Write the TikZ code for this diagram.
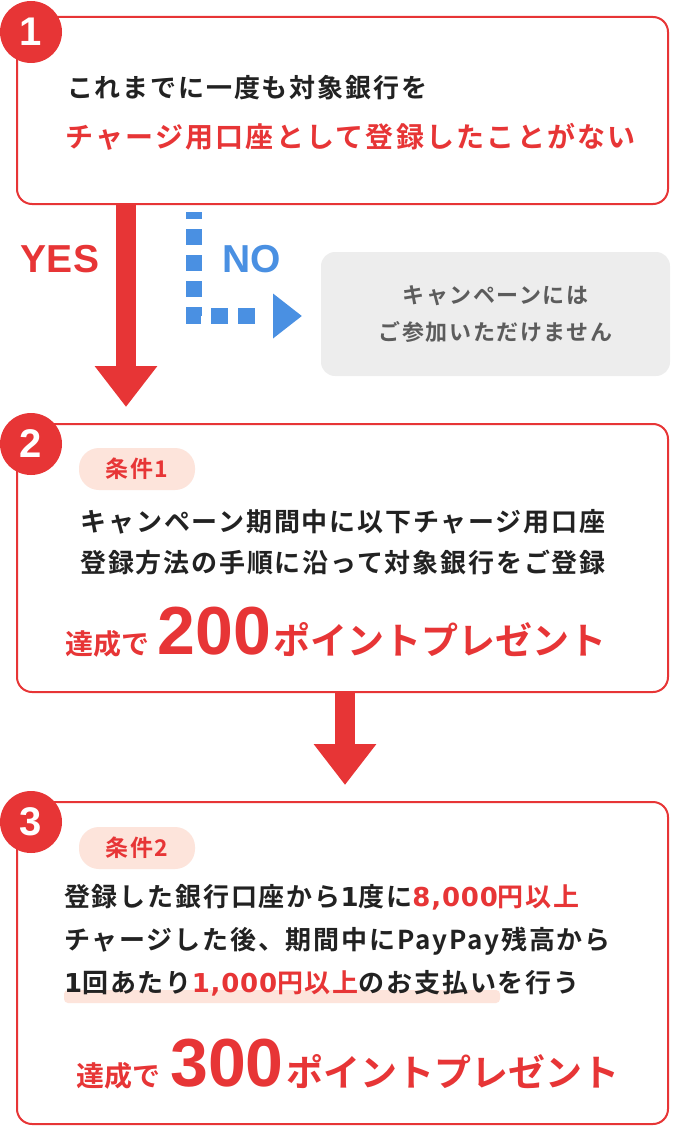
\documentclass[tikz,border=0pt]{standalone}
\usepackage{fontspec}
\setmainfont{Noto Sans CJK JP}[BoldFont=* Bold]
\newfontfamily\headfont{Liberation Sans}
\newfontfamily\digitfont{DejaVu Sans}
\usetikzlibrary{arrows.meta,positioning}
\definecolor{ppRed}{HTML}{E73536}
\definecolor{ppBlue}{HTML}{4A90E2}
\definecolor{ppInk}{HTML}{222222}
\definecolor{ppGray}{HTML}{EDEDED}
\definecolor{ppMute}{HTML}{5C5C5C}
\definecolor{ppPink}{HTML}{FDE4DB}
\newcommand{\fs}[1]{\fontsize{#1}{#1}\selectfont}
\newcommand{\wide}{\addfontfeature{LetterSpace=7}}
\newcommand{\digits}[1]{{\digitfont\bfseries\addfontfeature{LetterSpace=3}#1}}

\begin{document}
\begin{tikzpicture}[x=1pt,y=-1pt,
   stepbox/.style={draw=ppRed,line width=2pt,fill=white,rounded corners=15pt,
              minimum width=651pt,inner sep=0pt},
   numdot/.style={circle,fill=ppRed,minimum size=62pt,inner sep=0pt,text=white,
              font=\headfont\bfseries\fs{40}},
   pill/.style={fill=ppPink,rounded corners=20pt,minimum width=116pt,minimum height=42pt,
              inner sep=0pt,text=ppRed,font=\bfseries\fs{23}\wide},
   body/.style={inner sep=0pt,text=ppInk,font=\bfseries\fs{26}\wide},
   prize/.style={inner sep=0pt,text=ppRed,font=\bfseries},
   answer/.style={inner sep=0pt,font=\headfont\bfseries\fs{39}},
   bigarrow/.style={draw=ppRed,line width=20pt,-{Triangle[length=41pt,width=60pt]}},
   noarrow/.style={draw=ppBlue,line width=16pt,
              dash pattern=on 7pt off 10pt on 16pt off 10pt on 16pt off 10pt on 16pt off 10pt
                 on 16pt off 10pt on 17pt off 10pt on 17pt off 40pt,
              -{Triangle[length=29pt,width=43pt]}}]
  \useasboundingbox (0,0) rectangle (686,1126);
  % step 1
  \node[stepbox,minimum height=187pt] (step1) at (342.5,110.5) {};
  \node[numdot] (num1) at (31,32) {1};
  \node[body,anchor=west] (q1a) at (67,88) {これまでに一度も対象銀行を};
  \node[body,anchor=west,text=ppRed,font=\bfseries\fs{28}\addfontfeature{LetterSpace=8}] (q1b) at (65,137)
     {チャージ用口座として登録したことがない};
  % yes / no
  \node[answer,text=ppRed] (yes) at (60,259) {YES};
  \node[answer,text=ppBlue] (no) at (252,259) {NO};
  \node[fill=ppGray,rounded corners=14pt,minimum width=349pt,minimum height=124pt,
        align=center,text=ppMute,font=\bfseries\fontsize{22}{37}\selectfont\wide] (nobox) at (495.5,314)
     {キャンペーンには\\ご参加いただけません};
  \coordinate (yestip) at (126,407);
  \draw[bigarrow] (step1.south -| yestip) -- (yestip);
  \coordinate (nostart) at (194,212);
  \coordinate (noend) at (302,316);
  \draw[noarrow] (nostart) |- (noend);
  % step 2
  \node[stepbox,minimum height=268pt] (step2) at (342.5,558) {};
  \node[numdot] (num2) at (31,444) {2};
  \node[pill] (cond1) at (137,469) {条件1};
  \node[body] (t2a) at (343,522) {キャンペーン期間中に以下チャージ用口座};
  \node[body] (t2b) at (343,563) {登録方法の手順に沿って対象銀行をご登録};
  \node[prize,anchor=base] (p2) at (336,654)
     {{\fs{28}達成で}\hspace{8pt}{\headfont\fs{68}200}\hspace{2pt}{\fs{37}ポイントプレゼント}};
  \coordinate (oktip) at (345,785);
  \draw[bigarrow] (step2.south -| oktip) -- (oktip);
  % step 3
  \node[stepbox,minimum height=322pt] (step3) at (342.5,963) {};
  \node[numdot] (num3) at (31,822) {3};
  \node[pill] (cond2) at (137,848) {条件2};
  \fill[ppPink,rounded corners=4pt] (64,990) rectangle (500,1003);
  \node[body,anchor=west] (t3a) at (64,897)
     {登録した銀行口座から\digits{1}度に\textcolor{ppRed}{\digits{8,000}円以上}};
  \node[body,anchor=west] (t3b) at (64,941) {チャージした後、期間中にPayPay残高から};
  \node[body,anchor=west] (t3c) at (64,983)
     {\digits{1}回あたり\textcolor{ppRed}{\digits{1,000}円以上}のお支払いを行う};
  \node[prize,anchor=base] (p3) at (348,1086)
     {{\fs{28}達成で}\hspace{10pt}{\headfont\fs{68}300}\hspace{3pt}{\fs{37}ポイントプレゼント}};
\end{tikzpicture}
\end{document}
